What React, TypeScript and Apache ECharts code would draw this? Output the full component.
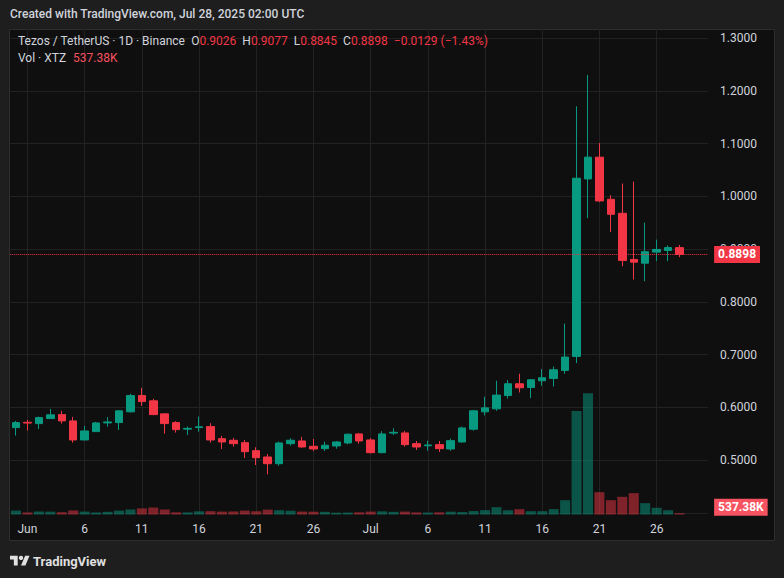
import React, { useEffect, useRef } from "react";
import * as echarts from "echarts";

// ---------- data ----------
const dates = [
  "2025-05-31",
  "2025-06-01", "2025-06-02", "2025-06-03", "2025-06-04", "2025-06-05", "2025-06-06", "2025-06-07", "2025-06-08", "2025-06-09", "2025-06-10",
  "2025-06-11", "2025-06-12", "2025-06-13", "2025-06-14", "2025-06-15", "2025-06-16", "2025-06-17", "2025-06-18", "2025-06-19", "2025-06-20",
  "2025-06-21", "2025-06-22", "2025-06-23", "2025-06-24", "2025-06-25", "2025-06-26", "2025-06-27", "2025-06-28", "2025-06-29", "2025-06-30",
  "2025-07-01", "2025-07-02", "2025-07-03", "2025-07-04", "2025-07-05", "2025-07-06", "2025-07-07", "2025-07-08", "2025-07-09", "2025-07-10",
  "2025-07-11", "2025-07-12", "2025-07-13", "2025-07-14", "2025-07-15", "2025-07-16", "2025-07-17", "2025-07-18", "2025-07-19", "2025-07-20",
  "2025-07-21", "2025-07-22", "2025-07-23", "2025-07-24", "2025-07-25", "2025-07-26", "2025-07-27", "2025-07-28",
];
// empty future days shown at the right edge of the time scale
const padDates = ["2025-07-29", "2025-07-30"];

const open = [
  0.5614,
  0.5715, 0.5690, 0.5785, 0.5861, 0.5741, 0.5380, 0.5538, 0.5703, 0.5709, 0.5913,
  0.6222, 0.6122, 0.5875, 0.5709, 0.5585, 0.5615, 0.5633, 0.5405, 0.5374, 0.5329,
  0.5177, 0.5057, 0.4930, 0.5310, 0.5361, 0.5260, 0.5215, 0.5266, 0.5323, 0.5494,
  0.5380, 0.5139, 0.5510, 0.5513, 0.5310, 0.5270, 0.5291, 0.5209, 0.5342, 0.5584,
  0.5913, 0.5970, 0.6222, 0.6445, 0.6375, 0.6502, 0.6546, 0.6698, 0.6964, 1.0329,
  1.0741, 0.9943, 0.9677, 0.8802, 0.8732, 0.8941, 0.8973, 0.9026,
];
const high = [
  0.5741,
  0.5760, 0.5823, 0.5970, 0.5932, 0.5817, 0.5646, 0.5722, 0.5812, 0.5940, 0.6255,
  0.6369, 0.6160, 0.5880, 0.5736, 0.5633, 0.5823, 0.5698, 0.5456, 0.5418, 0.5380,
  0.5241, 0.5114, 0.5348, 0.5413, 0.5437, 0.5399, 0.5348, 0.5361, 0.5500, 0.5513,
  0.5413, 0.5546, 0.5603, 0.5551, 0.5361, 0.5367, 0.5361, 0.5405, 0.5633, 0.5951,
  0.6200, 0.6502, 0.6515, 0.6635, 0.6534, 0.6724, 0.6774, 0.7586, 1.1705, 1.2300,
  1.1008, 1.0019, 1.0241, 1.0279, 0.9500, 0.9177, 0.9068, 0.9077,
];
const low = [
  0.5462,
  0.5557, 0.5589, 0.5780, 0.5690, 0.5329, 0.5375, 0.5532, 0.5633, 0.5570, 0.5900,
  0.6027, 0.5850, 0.5500, 0.5519, 0.5475, 0.5538, 0.5329, 0.5209, 0.5253, 0.5038,
  0.4905, 0.4728, 0.4892, 0.5272, 0.5234, 0.5171, 0.5171, 0.5215, 0.5298, 0.5310,
  0.5127, 0.5127, 0.5475, 0.5253, 0.5190, 0.5177, 0.5152, 0.5177, 0.5329, 0.5557,
  0.5845, 0.5932, 0.6165, 0.6280, 0.6173, 0.6407, 0.6394, 0.6635, 0.6838, 0.9587,
  0.9890, 0.9321, 0.8675, 0.8422, 0.8390, 0.8770, 0.8770, 0.8845,
];
const close = [
  0.5709,
  0.5700, 0.5804, 0.5856, 0.5741, 0.5380, 0.5551, 0.5703, 0.5722, 0.5932, 0.6222,
  0.6108, 0.5861, 0.5690, 0.5576, 0.5600, 0.5630, 0.5380, 0.5342, 0.5310, 0.5158,
  0.5044, 0.4930, 0.5323, 0.5375, 0.5247, 0.5209, 0.5280, 0.5342, 0.5489, 0.5361,
  0.5139, 0.5494, 0.5525, 0.5291, 0.5247, 0.5285, 0.5215, 0.5367, 0.5608, 0.5932,
  0.5989, 0.6230, 0.6445, 0.6369, 0.6521, 0.6559, 0.6711, 0.6952, 1.0342, 1.0741,
  0.9911, 0.9658, 0.8783, 0.8751, 0.8949, 0.8992, 0.9027, 0.8898,
];
// volume in XTZ
const volume = [
  1620000,
  850000, 1250000, 1180000, 900000, 1650000, 1200000, 820000, 1100000, 1600000, 2100000,
  2500000, 2850000, 2050000, 900000, 850000, 1300000, 1350000, 1200000, 1250000, 1600000,
  1300000, 2000000, 1750000, 1550000, 1200000, 1150000, 1100000, 750000, 800000, 900000,
  1200000, 1300000, 1100000, 1200000, 850000, 800000, 900000, 1150000, 1000000, 1400000,
  1800000, 3000000, 1750000, 2150000, 1350000, 1350000, 2200000, 5850000, 42400000, 49700000,
  9150000, 5850000, 7250000, 8750000, 4650000, 2750000, 1750000, 537380,
];

// time-scale ticks and their labels
const xTickDates = [
  "2025-06-01", "2025-06-06", "2025-06-11", "2025-06-16", "2025-06-21", "2025-06-26",
  "2025-07-01", "2025-07-06", "2025-07-11", "2025-07-16", "2025-07-21", "2025-07-26",
];
const xTickLabels = ["Jun", "6", "11", "16", "21", "26", "Jul", "6", "11", "16", "21", "26"];
// price scale
const priceMin = 0.4;
const priceMax = 1.3;
const priceStep = 0.1;
const volAxisMax = 199000000;

// ---------- styling ----------
const FONT = "Roboto, 'Noto Sans', 'DejaVu Sans', sans-serif";
const UP = "#089981";
const DOWN = "#f23645";
const GRID_LINE = "#222222";
const TEXT = "#d1d4dc";
const TV_LOGO_D = "M14 22H7V11H0V4h14v18zM28 22h-8l7.5-18h8L28 22z";

let logoRegistered = false;
function registerLogo() {
  if (logoRegistered) return;
  try {
    echarts.graphic.registerShape("tvlogo", echarts.graphic.extendPath(TV_LOGO_D, {}) as any);
  } catch (e) {
    /* ignore */
  }
  logoRegistered = true;
}

function fmtSigned(v: number, digits: number) {
  return (v < 0 ? "\u2212" : "") + Math.abs(v).toFixed(digits);
}

function buildOption() {
  const n = dates.length;
  const allDates = dates.concat(padDates);
  const candleData = dates.map((_, i) => [open[i], close[i], low[i], high[i]]);
  const volData = volume.map((v, i) => ({
    value: v,
    itemStyle: { color: close[i] >= open[i] ? "rgba(8,153,129,0.5)" : "rgba(242,54,69,0.5)" },
  }));

  const lastO = open[n - 1];
  const lastH = high[n - 1];
  const lastL = low[n - 1];
  const lastC = close[n - 1];
  const prevC = close[n - 2];
  const chg = lastC - prevC;
  const pct = (chg / prevC) * 100;
  const lastVol = volume[n - 1];
  const fmtVol = (v: number) => (v / 1000).toFixed(2) + "K";

  const row1 =
    "{t|Tezos / TetherUS · 1D · Binance}" +
    "{k|O}{v|" + lastO.toFixed(4) + "}" +
    "{k|H}{v|" + lastH.toFixed(4) + "}" +
    "{k|L}{v|" + lastL.toFixed(4) + "}" +
    "{k|C}{v|" + lastC.toFixed(4) + "}" +
    "{c|" + fmtSigned(chg, 4) + " (" + fmtSigned(pct, 2) + "%)}";
  const row2 = "{t|Vol · XTZ}{vv|" + fmtVol(lastVol) + "}";

  const isTick = (_idx: number, value: string) => xTickDates.indexOf(value) >= 0;

  const grid0Left = 10.28;
  const gridWidth = 697.84;

  return {
    animation: false,
    backgroundColor: "#1e1e1e",
    textStyle: { fontFamily: FONT },
    graphic: {
      elements: [
        {
          type: "rect",
          z: -100,
          silent: true,
          shape: { x: 9.5, y: 29.5, width: 765, height: 511 },
          style: { fill: "#0f0f0f", stroke: "#2e2e2e", lineWidth: 1 },
        },
        {
          type: "text",
          x: 10,
          y: 14,
          silent: true,
          style: {
            text: "Created with TradingView.com, Jul 28, 2025 02:00 UTC",
            fill: TEXT,
            fontSize: 12,
            fontWeight: 500,
            fontFamily: FONT,
            verticalAlign: "middle",
          },
        },
        {
          type: "text",
          x: 18,
          y: 41,
          z: 10,
          silent: true,
          style: {
            text: row1,
            verticalAlign: "middle",
            fontFamily: FONT,
            fontSize: 12,
            rich: {
              t: { fill: TEXT, fontSize: 12, fontFamily: FONT },
              k: { fill: TEXT, fontSize: 12, fontFamily: FONT, padding: [0, 0, 0, 6] },
              v: { fill: DOWN, fontSize: 12, fontFamily: FONT },
              c: { fill: DOWN, fontSize: 12, fontFamily: FONT, padding: [0, 0, 0, 6] },
            },
          },
        },
        {
          type: "text",
          x: 18,
          y: 58,
          z: 10,
          silent: true,
          style: {
            text: row2,
            verticalAlign: "middle",
            fontFamily: FONT,
            fontSize: 12,
            rich: {
              t: { fill: TEXT, fontSize: 12, fontFamily: FONT },
              vv: { fill: "#f7525f", fontSize: 12, fontFamily: FONT, padding: [0, 0, 0, 7] },
            },
          },
        },
        {
          type: "tvlogo",
          x: 10,
          y: 553.5,
          scaleX: 0.55,
          scaleY: 0.55,
          silent: true,
          style: { fill: "#e0e0e0" },
        },
        {
          type: "circle",
          silent: true,
          shape: { cx: 10 + 20 * 0.55, cy: 553.5 + 8 * 0.55, r: 4 * 0.55 },
          style: { fill: "#e0e0e0" },
        },
        {
          type: "text",
          x: 33,
          y: 561,
          silent: true,
          style: {
            text: "TradingView",
            fill: "#e0e0e0",
            fontSize: 13,
            fontWeight: "bold",
            fontFamily: FONT,
            verticalAlign: "middle",
          },
        },
      ],
    },
    grid: [
      { left: grid0Left, top: 38, width: gridWidth, height: 474.75, containLabel: false, outerBoundsMode: "none" },
      { left: grid0Left, top: 29, width: gridWidth, height: 485.5, containLabel: false, outerBoundsMode: "none" },
    ],
    xAxis: [
      {
        type: "category",
        gridIndex: 0,
        data: allDates,
        boundaryGap: true,
        axisLine: { show: false },
        axisTick: { show: false },
        axisLabel: { show: false },
        splitLine: { show: false },
      },
      {
        type: "category",
        gridIndex: 1,
        position: "bottom",
        data: allDates,
        boundaryGap: true,
        axisLine: { show: false, onZero: false },
        axisTick: { show: false, alignWithLabel: true, interval: isTick },
        axisLabel: {
          show: true,
          interval: isTick,
          color: TEXT,
          fontSize: 12,
          margin: 8,
          fontFamily: FONT,
          formatter: (value: string) => {
            const k = xTickDates.indexOf(value);
            return k >= 0 ? xTickLabels[k] : "";
          },
        },
        splitLine: {
          show: true,
          interval: isTick,
          alignWithLabel: true,
          lineStyle: { color: GRID_LINE, width: 1 },
        },
      },
    ],
    yAxis: [
      {
        type: "value",
        gridIndex: 0,
        position: "right",
        min: priceMin,
        max: priceMax,
        interval: priceStep,
        axisLine: { show: false },
        axisTick: { show: false },
        axisLabel: {
          color: TEXT,
          fontSize: 12,
          margin: 12,
          fontFamily: FONT,
          formatter: (v: number) => (v < 0.45 ? "" : v.toFixed(4)),
        },
        splitLine: { show: true, lineStyle: { color: GRID_LINE, width: 1 } },
      },
      {
        type: "value",
        gridIndex: 1,
        min: 0,
        max: volAxisMax,
        show: false,
        splitLine: { show: false },
      },
    ],
    series: [
      {
        type: "bar",
        name: "Vol",
        xAxisIndex: 1,
        yAxisIndex: 1,
        data: volData,
        barWidth: 10,
        z: 1,
        silent: true,
        markLine: {
          silent: true,
          symbol: "none",
          precision: 0,
          data: [{ yAxis: lastVol }],
          lineStyle: { color: "rgba(0,0,0,0)", width: 0, opacity: 1 },
          label: {
            show: true,
            position: "end",
            distance: 6,
            offset: [0, -6],
            opacity: 1,
            formatter: (p: any) => fmtVol(Number(p.value)),
            backgroundColor: "#f7525f",
            color: "#ffffff",
            fontSize: 12,
            fontWeight: "bold",
            fontFamily: FONT,
            padding: [3, 4, 2, 4],
          },
        },
      },
      {
        type: "candlestick",
        name: "XTZUSDT",
        xAxisIndex: 0,
        yAxisIndex: 0,
        data: candleData,
        barWidth: 8,
        z: 3,
        silent: true,
        itemStyle: { color: UP, color0: DOWN, borderColor: UP, borderColor0: DOWN, borderWidth: 1 },
        markLine: {
          silent: true,
          symbol: "none",
          precision: 4,
          data: [{ yAxis: lastC }],
          lineStyle: { color: DOWN, type: "dotted", width: 1, opacity: 1 },
          label: {
            position: "end",
            distance: 6,
            formatter: (p: any) => Number(p.value).toFixed(4),
            backgroundColor: DOWN,
            color: "#ffffff",
            fontSize: 12,
            fontWeight: "bold",
            fontFamily: FONT,
            padding: [3, 4, 2, 4],
          },
        },
      },
    ],
  };
}

export default function App() {
  const ref = useRef<HTMLDivElement>(null);
  useEffect(() => {
    if (!ref.current) return;
    registerLogo();
    const chart = echarts.init(ref.current, null, { renderer: "svg" });
    chart.setOption(buildOption() as any);
    return () => {
      chart.dispose();
    };
  }, []);
  return (
    <div
      ref={ref}
      style={{ position: "fixed", left: 0, top: 0, width: 784, height: 578 }}
    />
  );
}
